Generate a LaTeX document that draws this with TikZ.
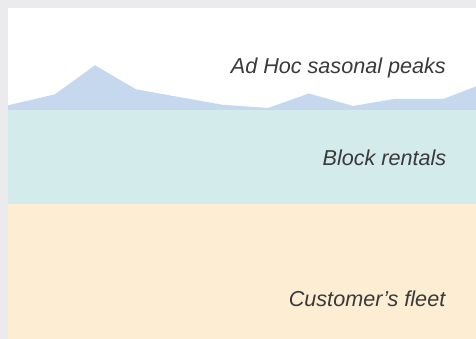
\documentclass[tikz,border=0pt]{standalone}
\usepackage{fontspec}
\setmainfont{Liberation Sans}
\definecolor{bggray}{HTML}{EBEBED}
\definecolor{peakblue}{HTML}{C5D8EE}
\definecolor{blockteal}{HTML}{D4EBEC}
\definecolor{fleetbeige}{HTML}{FCEDD3}
\definecolor{labelgray}{HTML}{3A3A3A}
\tikzset{
  bandlabel/.style={anchor=base east, inner sep=0pt, text=labelgray,
    font=\fontsize{21.6pt}{24pt}\selectfont\itshape}
}
\begin{document}
\begin{tikzpicture}[x=1pt,y=-1pt]
\useasboundingbox (0,0) rectangle (476,339);
\fill[bggray] (0,0) rectangle (476,339);
\fill[white] (8,8.5) rectangle (476,339);
% peaks
\fill[peakblue] (8,111) -- (8,105.3) -- (55,94.3) -- (95,65.3) -- (136,89.3)
  -- (222,104.7) -- (268,108) -- (309,93.5) -- (353,106) -- (394,99)
  -- (443,99) -- (476,86.5) -- (476,111) -- cycle;
% block rentals band
\fill[blockteal] (8,110) rectangle (476,204);
% customer's fleet band
\fill[fleetbeige] (8,204) rectangle (476,339);
\node[bandlabel] (adhoc) at (446,73.3) {Ad Hoc sasonal peaks};
\node[bandlabel] (block) at (446.5,165) {Block rentals};
\node[bandlabel] (fleet) at (445.5,306.3) {Customer’s fleet};
\end{tikzpicture}
\end{document}
